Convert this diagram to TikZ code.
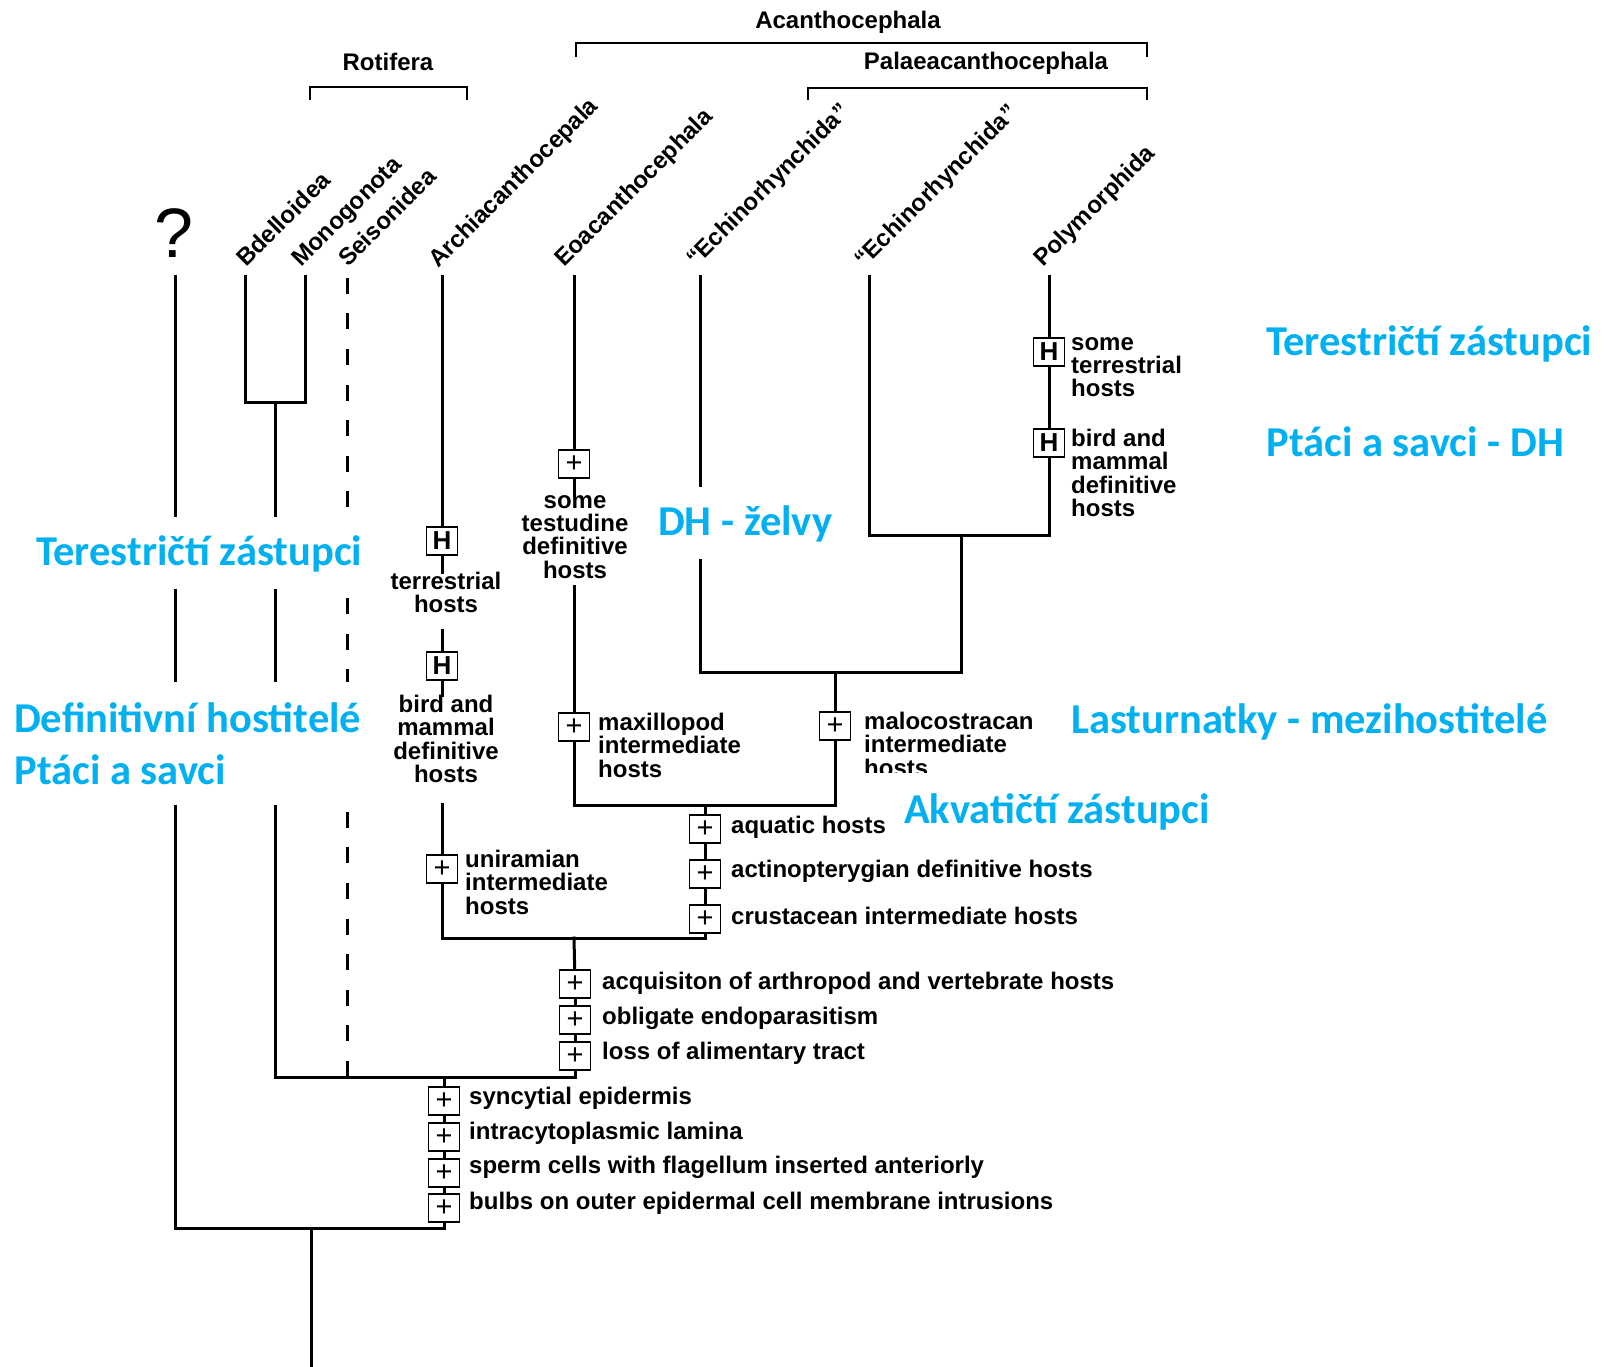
\documentclass[tikz,border=0pt]{standalone}
\usepackage{fontspec}
\setmainfont{Liberation Sans}
\newfontfamily\bluefont{Carlito}
\definecolor{czblue}{RGB}{0,176,240}
\begin{document}
\begin{tikzpicture}[x=1pt,y=-1pt,
  br/.style={line width=3pt, line cap=rect},
  brk/.style={line width=2pt},
  dsh/.style={line width=3pt, dash pattern=on 16pt off 19.6pt},
  mk/.style={draw, fill=white, line width=1.8pt, minimum width=31pt, minimum height=28pt, inner sep=0pt, font=\fontsize{29}{29}\selectfont},
  mkh/.style={mk, font=\bfseries\fontsize{26}{26}\selectfont},
  txt/.style={inner sep=0pt, font=\bfseries\fontsize{24}{23.3}\selectfont},
  tip/.style={inner sep=0pt, rotate=45, anchor=base west, font=\bfseries\fontsize{24}{24}\selectfont},
  grp/.style={inner sep=0pt, font=\bfseries\fontsize{24}{24}\selectfont},
  bl/.style={inner sep=0pt, text=czblue, font=\bluefont\bfseries\fontsize{42.5}{51.5}\selectfont},
  blw/.style={bl, fill=white}
]
\useasboundingbox (0,0) rectangle (1614,1366);

% group brackets
\node[grp] (gRot) at (388,62) {Rotifera};
\node[grp] (gAca) at (848,22) {Acanthocephala};
\node[grp] (gPal) at (986,63) {Palaeacanthocephala};
\coordinate (rotL) at (310,100); \coordinate (rotR) at (467,100);
\coordinate (acaL) at (576,57);  \coordinate (acaR) at (1147,57);
\coordinate (palL) at (808,100); \coordinate (palR) at (1147,100);
\draw[brk] (rotL) -- ++(0,-13) -| (rotR);
\draw[brk] (acaL) -- ++(0,-14) -| (acaR);
\draw[brk] (palL) -- ++(0,-12) -| (palR);

% taxon names
\node[inner sep=0pt, font=\fontsize{70}{70}\selectfont] (nQ) at (174,233) {?};
\node[tip] (nBd) at (246,268) {Bdelloidea};
\node[tip] (nMo) at (301,268) {Monogonota};
\node[tip] (nSe) at (348,268) {Seisonidea};
\node[tip] (nAr) at (438,269) {Archiacanthocepala};
\node[tip] (nEo) at (564,268) {Eoacanthocephala};
\node[tip] (nE1) at (696,268) {``Echinorhynchida''};
\node[tip] (nE2) at (864,269) {``Echinorhynchida''};
\node[tip] (nPo) at (1043,268) {Polymorphida};

% tips
\coordinate (tQ)  at (175,276);
\coordinate (tBd) at (245,276);
\coordinate (tMo) at (305,276);
\coordinate (tSe) at (347,278);
\coordinate (tAr) at (442,276);
\coordinate (tEo) at (574,276);
\coordinate (tE1) at (700,276);
\coordinate (tE2) at (869,276);
\coordinate (tPo) at (1049,276);

% joins
\coordinate (jBM) at (275,402);
\coordinate (j1) at (961,535);
\coordinate (j2) at (835,672);
\coordinate (j3) at (705,805);
\coordinate (j4) at (574,938);
\coordinate (j5) at (444,1077);
\coordinate (j6) at (311,1228);
\coordinate (rootEnd) at (311,1366);
\coordinate (sSe) at (347,1077);

% character markers
\node[mkh] (arH1) at (442,541) {H};
\node[mkh] (arH2) at (442,666) {H};
\node[mk]  (arP)  at (442,869) {+};
\node[mk]  (eoP1) at (574,464) {+};
\node[mk]  (eoP2) at (574,727) {+};
\node[mkh] (poH1) at (1049,352) {H};
\node[mkh] (poH2) at (1049,443) {H};
\node[mk]  (mcP)  at (835,726) {+};
\node[mk]  (aqP1) at (705,829) {+};
\node[mk]  (aqP2) at (705,874) {+};
\node[mk]  (aqP3) at (705,919) {+};
\node[mk]  (acP1) at (575,984) {+};
\node[mk]  (acP2) at (575,1020) {+};
\node[mk]  (acP3) at (575,1056) {+};
\node[mk]  (btP1) at (444,1101) {+};
\node[mk]  (btP2) at (444,1137) {+};
\node[mk]  (btP3) at (444,1173) {+};
\node[mk]  (btP4) at (444,1208) {+};

% character texts
\node[txt, align=center, anchor=north] (arT1) at (446,572) {terrestrial\\hosts};
\node[txt, align=center, anchor=north] (arT2) at (446,695) {bird and\\mammal\\definitive\\hosts};
\node[txt, align=left, anchor=north west] (arT3) at (465,850) {uniramian\\intermediate\\hosts};
\node[txt, align=center, anchor=north] (eoT1) at (575,495) {some\\testudine\\definitive\\hosts};
\node[txt, align=left, anchor=north west] (eoT2) at (598,713) {maxillopod\\intermediate\\hosts};
\node[txt, align=left, anchor=north west] (poT1) at (1071,337) {some\\terrestrial\\hosts};
\node[txt, align=left, anchor=north west] (poT2) at (1071,429) {bird and\\mammal\\definitive\\hosts};
\node[txt, align=left, anchor=north west] (mcT) at (864,712) {malocostracan\\intermediate\\hosts};

% tree lines
\draw[br] (tQ) |- (j6) -| (btP4.south);
\draw[br] (j6) -- (rootEnd);
\draw[br] (tBd) |- (jBM) -| (tMo);
\draw[br] (jBM) |- (j5) -| (acP3.south);
\draw[dsh] (sSe) -- (tSe);
\draw[br] (j5) -- (btP1);
\draw[br] (btP1) -- (btP2);
\draw[br] (btP2) -- (btP3);
\draw[br] (btP3) -- (btP4);
\draw[br] (tAr) -- (arH1);
\draw[br] (arH1) -- (arH1 |- arT1.north);
\draw[br] (arH2 |- arT1.south) ++(0,17) -- (arH2);
\draw[br] (arH2) -- (arH2 |- arT2.north);
\draw[br] (arP |- arT2.south) ++(0,22) -- (arP);
\draw[br] (arP.south) |- (j4) -| (aqP3.south);
\draw[br] (j4) -- (acP1);
\draw[br] (acP1) -- (acP2);
\draw[br] (acP2) -- (acP3);
\draw[br] (tEo) -- (eoP1);
\draw[br] (eoP1) -- (eoP1 |- eoT1.north);
\draw[br] (eoP2 |- eoT1.south) ++(0,8) -- (eoP2);
\draw[br] (eoP2.south) |- (j3) -| (mcP.south);
\draw[br] (j3) -- (aqP1);
\draw[br] (aqP1) -- (aqP2);
\draw[br] (aqP2) -- (aqP3);
\draw[br] (tE1) |- (j2) -| (j1);
\draw[br] (j2) -- (mcP);
\draw[br] (tE2) |- (j1) -| (poH2.south);
\draw[br] (tPo) -- (poH1);
\draw[br] (poH1) -- (poH2);

% blue annotations (white background hides what lies behind)
\node[blw, anchor=base west] (bR1) at (1266,355) {Terestričtí zástupci};
\node[blw, anchor=base west] (bR2) at (1266,456) {Ptáci a savci - DH};
\node[blw, anchor=base west, inner xsep=4pt, minimum height=72pt] (bDH) at (654,535) {DH - želvy};
\node[blw, anchor=base west, inner xsep=6pt, minimum height=72pt] (bL1) at (30,565) {Terestričtí zástupci};
\node[blw, anchor=north west, align=left, inner xsep=5pt, minimum height=123pt] (bL2) at (9,682) {Definitivní hostitelé\\Ptáci a savci};
\node[blw, anchor=base west] (bLa) at (1071,733) {Lasturnatky - mezihostitelé};
\node[blw, anchor=base west, inner xsep=4pt, minimum height=76pt] (bAk) at (856,823) {\hspace*{44pt}Akvatičtí zástupci};

% single-line character texts (drawn above the blue boxes)
\node[txt, anchor=west] (aqT1) at (731,827) {aquatic hosts};
\node[txt, anchor=west] (aqT2) at (731,871) {actinopterygian definitive hosts};
\node[txt, anchor=west] (aqT3) at (731,916) {crustacean intermediate hosts};
\node[txt, anchor=west] (acT1) at (602,983) {acquisiton of arthropod and vertebrate hosts};
\node[txt, anchor=west] (acT2) at (602,1018) {obligate endoparasitism};
\node[txt, anchor=west] (acT3) at (602,1053) {loss of alimentary tract};
\node[txt, anchor=west] (btT1) at (469,1098) {syncytial epidermis};
\node[txt, anchor=west] (btT2) at (469,1133) {intracytoplasmic lamina};
\node[txt, anchor=west] (btT3) at (469,1167) {sperm cells with flagellum inserted anteriorly};
\node[txt, anchor=west] (btT4) at (469,1203) {bulbs on outer epidermal cell membrane intrusions};
\end{tikzpicture}
\end{document}
